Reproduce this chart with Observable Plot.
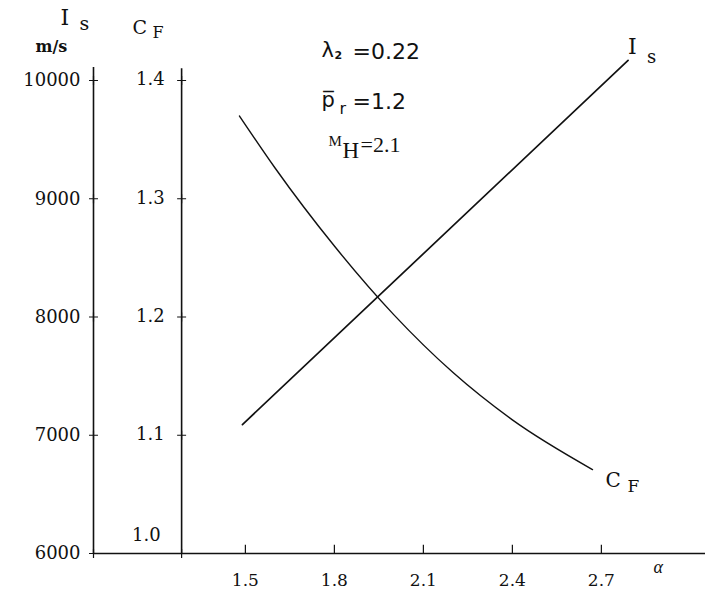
<!DOCTYPE html>
<html>
<head>
<meta charset="utf-8">
<script src="https://cdn.jsdelivr.net/npm/d3@7"></script>
<script src="https://cdn.jsdelivr.net/npm/@observablehq/plot@0.6"></script>
<style>
  html, body { margin: 0; padding: 0; background: #fff; }
</style>
</head>
<body>
<div id="chart"></div>
<script>
// ---- data ----
const alphaTicks = [1.5, 1.8, 2.1, 2.4, 2.7];
const alphaTickLabels = ["1.5", "1.8", "2.1", "2.4", "2.7"];
const isTicks = [6000, 7000, 8000, 9000, 10000];
const cfTicks = [1.0, 1.1, 1.2, 1.3, 1.4];
const cfTickLabels = ["1.0", "1.1", "1.2", "1.3", "1.4"];
const isAlpha = [1.49, 2.79];
const isValues = [7090, 10170];
const cfAlpha = [1.48, 1.6, 1.8, 2.0, 2.2, 2.4, 2.67];
const cfValues = [1.370, 1.326, 1.260, 1.202, 1.153, 1.113, 1.071];

// ---- layout ----
const W = 710, H = 598;
const ML = 93, MR = 5, MT = 67, MB = 45;
const xDomain = [0.988, 3.051];
const yDomain = [6000, 10110];
const cfAxisAlpha = 1.285;               // position of the C_F axis on the α scale
const cfToY = c => 6000 + (c - 1) * 10000; // C_F 1.0..1.4 shares the I_s 6000..10000 span

const SERIF = "DejaVu Serif";
const TIMES = "Liberation Serif";
const SANS = "DejaVu Sans";

function lbl(text, X, top, size, family, extra = {}) {
  return Plot.text([text], {
    frameAnchor: "top-left", dx: X - ML, dy: top - MT,
    text: d => d, textAnchor: "start", lineAnchor: "top",
    fontSize: size, fontFamily: family, fill: "#111", ...extra
  });
}

const isData = isAlpha.map((a, i) => ({a, v: isValues[i]}));
const cfData = cfAlpha.map((a, i) => ({a, c: cfValues[i]}));
const isEnd = isData[isData.length - 1];
const cfEnd = cfData[cfData.length - 1];

const chart = Plot.plot({
  width: W, height: H,
  marginLeft: ML, marginRight: MR, marginTop: MT, marginBottom: MB,
  x: {domain: xDomain, axis: null},
  y: {domain: yDomain, axis: null},
  style: {background: "#fff", color: "#111"},
  marks: [
    // axis lines
    Plot.ruleX([xDomain[0]], {y1: yDomain[0], y2: yDomain[1], stroke: "#111", strokeWidth: 1.6}),
    Plot.ruleX([cfAxisAlpha], {y1: yDomain[0], y2: 10100, stroke: "#111", strokeWidth: 1.6}),
    Plot.ruleY([yDomain[0]], {x1: xDomain[0], x2: xDomain[1], stroke: "#111", strokeWidth: 1.6}),
    // I_s axis ticks and labels
    Plot.dot(isTicks, {x: () => xDomain[0], y: d => d, symbol: "plus", r: 3, stroke: "#111", strokeWidth: 1.2}),
    Plot.text(isTicks, {x: () => xDomain[0], y: d => d, text: d => String(d), dx: -13, textAnchor: "end",
      fontSize: 18, fontFamily: SERIF, fill: "#111"}),
    // C_F axis ticks and labels
    Plot.dot(cfTicks, {x: () => cfAxisAlpha, y: cfToY, symbol: "plus", r: 3, stroke: "#111", strokeWidth: 1.2}),
    Plot.text(cfTicks, {x: () => cfAxisAlpha, y: cfToY, text: (d, i) => cfTickLabels[i], dx: -17, dy: -1,
      textAnchor: "end", fontSize: 18, fontFamily: SERIF, fill: "#111", filter: d => d !== 1.0}),
    Plot.text(cfTicks, {x: () => cfAxisAlpha, y: cfToY, text: (d, i) => cfTickLabels[i], dx: -21, dy: -18,
      textAnchor: "end", fontSize: 18, fontFamily: SERIF, fill: "#111", filter: d => d === 1.0}),
    // α axis ticks and labels
    Plot.ruleX(alphaTicks, {x: d => d, y1: 6000, y2: 6070, stroke: "#111", strokeWidth: 1.2}),
    Plot.text(alphaTicks, {x: d => d, y: () => 6000, text: (d, i) => alphaTickLabels[i], dy: 27,
      fontSize: 17, fontFamily: SERIF, fill: "#111"}),
    // curves
    Plot.line(isData, {x: "a", y: "v", stroke: "#111", strokeWidth: 1.7}),
    Plot.line(cfData, {x: "a", y: d => cfToY(d.c), curve: "monotone-x", stroke: "#111", strokeWidth: 1.4}),
    // curve end labels
    Plot.text([isEnd], {x: "a", y: "v", text: () => "I", dx: 0, dy: -22, textAnchor: "start", lineAnchor: "top",
      fontSize: 22, fontFamily: SERIF, fill: "#111"}),
    Plot.text([isEnd], {x: "a", y: "v", text: () => "s", dx: 19, dy: -10, textAnchor: "start", lineAnchor: "top",
      fontSize: 18, fontFamily: SERIF, fill: "#111"}),
    Plot.text([cfEnd], {x: "a", y: d => cfToY(d.c), text: () => "C", dx: 13, dy: 3, textAnchor: "start", lineAnchor: "top",
      fontSize: 20, fontFamily: SERIF, fill: "#111"}),
    Plot.text([cfEnd], {x: "a", y: d => cfToY(d.c), text: () => "F", dx: 35, dy: 10, textAnchor: "start", lineAnchor: "top",
      fontSize: 17, fontFamily: SERIF, fill: "#111"}),
    // axis titles
    lbl("I", 60, 9, 22, SERIF),
    lbl("s", 79, 16, 19, SERIF),
    lbl("m/s", 35, 40, 16, SERIF, {fontWeight: "bold"}),
    lbl("C", 132, 20, 19, SERIF),
    lbl("F", 152, 26, 16, SERIF),
    lbl("α", 653, 560, 18, TIMES, {fontStyle: "italic"}),
    // parameter annotations
    lbl("λ", 321, 42, 21, SANS),
    lbl("2", 334, 51, 11, SANS, {fontWeight: "bold"}),
    lbl("=0.22", 352, 43, 22, SANS),
    lbl("p\u0305", 321, 92, 21, SANS),
    lbl("r", 339, 102, 16, SANS),
    lbl("=1.2", 352, 93, 22, SANS),
    lbl("M", 328, 135, 15, TIMES),
    lbl("H", 342, 141, 23, TIMES),
    lbl("=2.1", 360, 136, 22, TIMES)
  ]
});
document.getElementById("chart").appendChild(chart);
</script>
</body>
</html>
